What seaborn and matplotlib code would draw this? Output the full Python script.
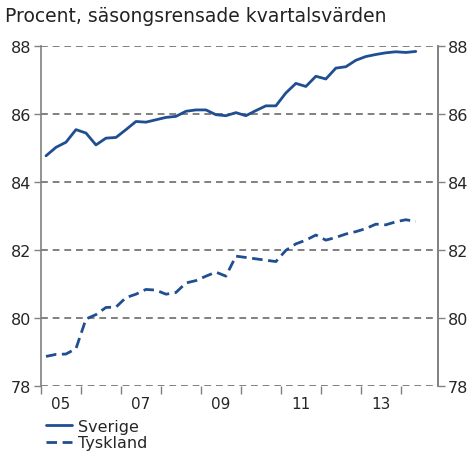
import numpy as np
import pandas as pd
import matplotlib
matplotlib.use("Agg")
import matplotlib.pyplot as plt
import seaborn as sns
from matplotlib.lines import Line2D

title = "Procent, säsongsrensade kvartalsvärden"
series_names = ["Sverige", "Tyskland"]
start_year = 2005
sverige = [84.77, 85.02, 85.17, 85.54, 85.44, 85.09, 85.29, 85.31, 85.54, 85.78,
           85.76, 85.83, 85.90, 85.93, 86.08, 86.12, 86.12, 85.98, 85.95, 86.04,
           85.95, 86.10, 86.24, 86.24, 86.62, 86.90, 86.81, 87.11, 87.03, 87.35,
           87.39, 87.58, 87.69, 87.75, 87.80, 87.83, 87.81, 87.84]
tyskland = [78.87, 78.93, 78.94, 79.10, 79.97, 80.10, 80.31, 80.32, 80.60, 80.70,
            80.84, 80.82, 80.70, 80.75, 81.03, 81.10, 81.23, 81.35, 81.23, 81.82,
            81.78, 81.74, 81.70, 81.66, 81.99, 82.18, 82.29, 82.44, 82.29, 82.37,
            82.47, 82.54, 82.63, 82.76, 82.74, 82.83, 82.89, 82.84]
y_ticks = [78, 80, 82, 84, 86, 88]
x_tick_labels = ["05", "07", "09", "11", "13"]

n = len(sverige)
t = start_year + 0.125 + 0.25 * np.arange(n)
df = pd.DataFrame({
    "t": np.concatenate([t, t]),
    "value": sverige + tyskland,
    "land": [series_names[0]] * n + [series_names[1]] * n,
})

sns.set_style("white")
plt.rcParams['font.family'] = ['DejaVu Sans']

color = "#1f4e91"
grid_color = "#808080"
dash = (3.8, 2.0)

fig = plt.figure(figsize=(4.71, 4.52), dpi=100)
ax = fig.add_axes([41/471, 1 - 387/452, (438 - 41)/471, (387 - 47)/452])

sns.lineplot(data=df, x="t", y="value", style="land", ax=ax, color=color,
             linewidth=2.0, dashes={"Sverige": "", "Tyskland": dash},
             legend=False)

ax.set_xlim(start_year, start_year + 9.93)
ax.set_ylim(78, 88)
ax.set_xlabel("")
ax.set_ylabel("")

for yv in y_ticks:
    ax.axhline(yv, color=grid_color, linestyle=(0, (3.5, 2.5)), linewidth=1.4, zorder=0)

ax.set_yticks(y_ticks)
ax.set_yticklabels([str(v) for v in y_ticks])
ax.set_xticks(np.arange(start_year, start_year + 10))
ax.set_xticklabels([""] * 10)
ax.set_xticks([start_year + 0.5 + 2 * i for i in range(len(x_tick_labels))], minor=True)
ax.set_xticklabels(x_tick_labels, minor=True)
ax.tick_params(axis="x", which="major", direction="out", length=6, width=1, color=grid_color, bottom=True)
ax.tick_params(axis="x", which="minor", length=0, labelsize=11, pad=7, bottom=True)
ax.tick_params(axis="y", direction="out", length=5, width=1, color=grid_color, labelsize=11.5, left=True, pad=2)

for s in ["top", "bottom"]:
    ax.spines[s].set_visible(False)
for s in ["left", "right"]:
    ax.spines[s].set_color(grid_color)
    ax.spines[s].set_linewidth(1.2)

ax2 = ax.twinx()
ax2.set_ylim(78, 88)
ax2.set_yticks(y_ticks)
ax2.set_yticklabels([str(v) for v in y_ticks])
ax2.tick_params(axis="y", direction="out", length=5, width=1, color=grid_color, labelsize=11.5, right=True, pad=2)
for s in ["top", "bottom", "left"]:
    ax2.spines[s].set_visible(False)
ax2.spines["right"].set_color(grid_color)
ax2.spines["right"].set_linewidth(1.2)

fig.text(5/471, 1 - 17/452, title, fontsize=13.5, ha="left", va="center", color="#222222")

handles = [Line2D([], [], color=color, linewidth=2.0),
           Line2D([], [], color=color, linewidth=2.0, dashes=dash)]
fig.legend(handles, series_names, loc="upper left", bbox_to_anchor=(46/471, 1 - 420/452),
           frameon=False, fontsize=11.5, handlelength=1.65, handletextpad=0.33,
           labelspacing=0.08, borderpad=0, borderaxespad=0)

fig.savefig("out.png", dpi=100)
